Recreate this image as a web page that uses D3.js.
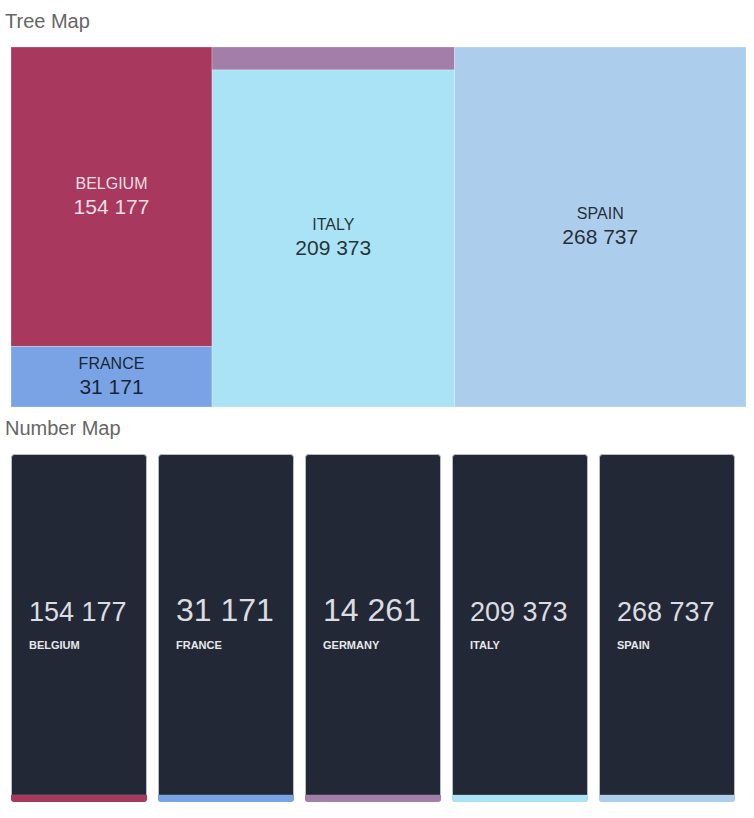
<!DOCTYPE html>
<html>
<head>
<meta charset="utf-8">
<script src="https://cdn.jsdelivr.net/npm/d3@7"></script>
<style>
  html, body { margin: 0; padding: 0; background: #fff; }
  svg { display: block; font-family: "Liberation Sans", Arial, Helvetica, sans-serif; }
</style>
</head>
<body>
<svg id="chart" width="754" height="818"></svg>
<script>
// ---- data ----
const countries = ["BELGIUM", "FRANCE", "GERMANY", "ITALY", "SPAIN"];
const values = [154177, 31171, 14261, 209373, 268737];
const colors = ["#a8385d", "#7aa3e5", "#a27ea8", "#aae3f5", "#adcded"];
const titles = ["Tree Map", "Number Map"];

const fmt = d3.formatLocale({ decimal: ".", thousands: " ", grouping: [3], currency: ["", ""] }).format(",d");
const color = d3.scaleOrdinal().domain(countries).range(colors);

const svg = d3.select("#chart");

// ---- titles ----
svg.append("text").attr("x", 5).attr("y", 28).attr("font-size", 20).attr("fill", "#666").text(titles[0]);
svg.append("text").attr("x", 5).attr("y", 435).attr("font-size", 20).attr("fill", "#666").text(titles[1]);

// ---- tree map ----
const tm = { x: 11, y: 47, w: 735, h: 360 };
const root = d3.hierarchy({ children: countries.map((c, i) => ({ name: c, value: values[i] })) })
  .sum(d => d.value || 0);
d3.treemap().size([tm.w, tm.h]).tile(d3.treemapSquarify)(root);

const gT = svg.append("g").attr("transform", `translate(${tm.x},${tm.y})`);
const cells = gT.selectAll("g.cell").data(root.leaves()).join("g").attr("class", "cell");
cells.append("rect")
  .attr("x", d => d.x0).attr("y", d => d.y0)
  .attr("width", d => d.x1 - d.x0).attr("height", d => d.y1 - d.y0)
  .attr("fill", d => color(d.data.name))
  .attr("stroke", "rgba(255,255,255,0.25)").attr("stroke-width", 1);

function textFill(c) {
  const l = d3.hsl(c).l;
  return l < 0.5 ? "rgba(255,255,255,0.85)" : "rgba(0,0,0,0.8)";
}
const labeled = cells.filter(d => (d.y1 - d.y0) > 45 && (d.x1 - d.x0) > 60);
labeled.append("text")
  .attr("x", d => (d.x0 + d.x1) / 2).attr("y", d => (d.y0 + d.y1) / 2 - 8)
  .attr("text-anchor", "middle").attr("font-size", 16)
  .attr("fill", d => textFill(color(d.data.name)))
  .text(d => d.data.name);
labeled.append("text")
  .attr("x", d => (d.x0 + d.x1) / 2).attr("y", d => (d.y0 + d.y1) / 2 + 17)
  .attr("text-anchor", "middle").attr("font-size", 21)
  .attr("fill", d => textFill(color(d.data.name)))
  .text(d => fmt(d.value));

// ---- number cards ----
const nc = { x: 11, y: 454, w: 724, h: 348 };
const cardW = (nc.w - 11 * (countries.length - 1)) / countries.length;
const xs = d3.scaleBand().domain(countries).range([nc.x, nc.x + nc.w]).paddingInner(11 / (cardW + 11)).paddingOuter(0);

const defs = svg.append("defs");
countries.forEach((c, i) => {
  defs.append("clipPath").attr("id", "clip" + i)
    .append("rect").attr("x", xs(c)).attr("y", nc.y).attr("width", xs.bandwidth()).attr("height", nc.h)
    .attr("rx", 3).attr("ry", 3);
});

const cards = svg.selectAll("g.card").data(countries).join("g").attr("class", "card");
cards.append("rect")
  .attr("x", d => xs(d) + 0.5).attr("y", nc.y + 0.5)
  .attr("width", xs.bandwidth() - 1).attr("height", nc.h - 1)
  .attr("rx", 3).attr("ry", 3)
  .attr("fill", "#232837").attr("stroke", "#b8bcc4").attr("stroke-width", 1);
cards.append("rect")
  .attr("clip-path", (d, i) => `url(#clip${i})`)
  .attr("x", d => xs(d)).attr("y", nc.y + nc.h - 7)
  .attr("width", xs.bandwidth()).attr("height", 7)
  .attr("fill", d => color(d));
cards.append("line")
  .attr("x1", d => xs(d) + 1).attr("x2", d => xs(d) + xs.bandwidth() - 1)
  .attr("y1", nc.y + nc.h - 7.5).attr("y2", nc.y + nc.h - 7.5)
  .attr("stroke", "rgba(255,255,255,0.12)");

cards.append("text")
  .attr("x", d => xs(d) + 18).attr("y", nc.y + 167)
  .attr("font-size", 32).attr("fill", "#dcdde0")
  .text((d, i) => fmt(values[i]))
  .each(function () {
    const w = this.getComputedTextLength();
    const target = 97;
    if (w > target) d3.select(this).attr("font-size", Math.round(32 * target / w));
  });
cards.append("text")
  .attr("x", d => xs(d) + 18).attr("y", nc.y + 195)
  .attr("font-size", 11).attr("font-weight", "bold").attr("fill", "#e8e8ea")
  .text(d => d);
</script>
</body>
</html>
